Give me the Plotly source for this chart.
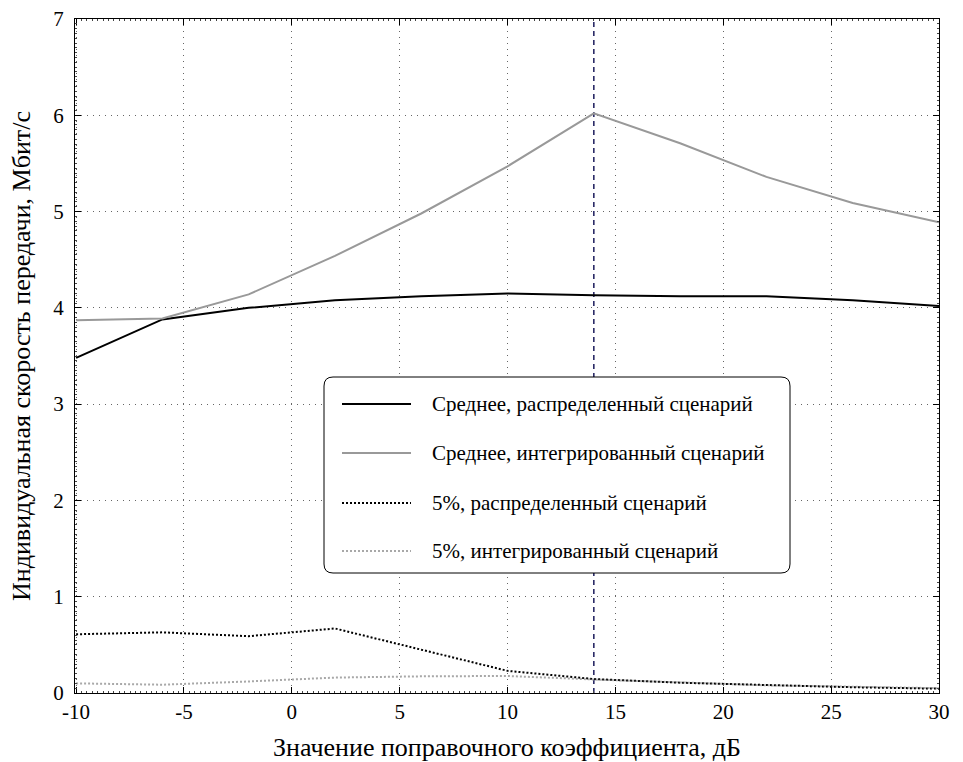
import plotly.graph_objects as go

# ---- data ----
x_db = [-10, -6, -2, 2, 6, 10, 14, 18, 22, 26, 30]
mean_distributed = [3.48, 3.88, 4.00, 4.08, 4.12, 4.15, 4.13, 4.12, 4.12, 4.08, 4.02]
mean_integrated = [3.87, 3.89, 4.14, 4.54, 4.98, 5.47, 6.02, 5.71, 5.36, 5.09, 4.89]
p5_distributed = [0.61, 0.63, 0.59, 0.67, 0.45, 0.23, 0.145, 0.107, 0.083, 0.06, 0.045]
p5_integrated = [0.10, 0.086, 0.12, 0.16, 0.173, 0.177, 0.14, 0.11, 0.08, 0.065, 0.05]
marker_x = 14

names = [
    "Среднее, распределенный сценарий",
    "Среднее, интегрированный сценарий",
    "5%, распределенный сценарий",
    "5%, интегрированный сценарий",
]
x_title = "Значение поправочного коэффициента, дБ"
y_title = "Индивидуальная скорость передачи, Мбит/с"
x_ticks = [-10, -5, 0, 5, 10, 15, 20, 25, 30]
x_ticktext = ["-10", "-5", "0", "5", "10", "15", "20", "25", "30"]
y_ticks = [0, 1, 2, 3, 4, 5, 6, 7]
y_ticktext = ["0", "1", "2", "3", "4", "5", "6", "7"]

styles = [
    dict(color="black", width=2, dash="solid"),
    dict(color="#999999", width=2, dash="solid"),
    dict(color="black", width=2, dash="2px,2px"),
    dict(color="#a8a8a8", width=2, dash="2px,2px"),
]
series = [mean_distributed, mean_integrated, p5_distributed, p5_integrated]

W, H = 963, 762
L, R, T, B = 75, 24, 19, 69
pw, ph = W - L - R, H - T - B

fig = go.Figure()

fig.add_trace(go.Scatter(
    x=[marker_x, marker_x], y=[0, 7], mode="lines",
    line=dict(color="#1c1c5c", width=1.5, dash="5px,4px"),
    showlegend=False, hoverinfo="skip"))

for ys, st, nm in zip(series, styles, names):
    fig.add_trace(go.Scatter(x=x_db, y=ys, mode="lines", name=nm,
                             line=st, showlegend=False))

font_family = "Liberation Serif"

axis_common = dict(
    showline=True, linecolor="black", linewidth=1, mirror="allticks",
    ticks="inside", ticklen=6, tickcolor="black", tickwidth=1,
    showgrid=True, gridcolor="#666666", gridwidth=1, griddash="1px,5px",
    zeroline=False, automargin=False,
    tickfont=dict(family=font_family, size=21, color="black"),
)

fig.update_xaxes(range=[-10.05, 30], tickvals=x_ticks, ticktext=x_ticktext,
                 ticklabelstandoff=0,
                 title=dict(text=x_title, font=dict(family=font_family, size=26, color="black")),
                 minor=dict(dtick=0.25, ticklen=2, tickcolor="#444", ticks="inside", showgrid=False),
                 **axis_common)
fig.update_yaxes(range=[0, 7], tickvals=y_ticks, ticktext=y_ticktext,
                 ticklabelstandoff=6,
                 title=dict(text=y_title, font=dict(family=font_family, size=26, color="black")),
                 minor=dict(dtick=0.05, ticklen=2, tickcolor="#444", ticks="inside", showgrid=False),
                 **axis_common)

# ---- custom legend ----
def px(xp):
    return (xp - L) / pw

def py(yp):
    return (H - B - yp) / ph

bx0, bx1, by0, by1 = 324, 790, 377, 573
r = 9
rx, ry = r / pw, r / ph
X0, X1, Y0, Y1 = px(bx0), px(bx1), py(by1), py(by0)
path = (f"M{X0+rx},{Y1} L{X1-rx},{Y1} Q{X1},{Y1} {X1},{Y1-ry} "
        f"L{X1},{Y0+ry} Q{X1},{Y0} {X1-rx},{Y0} "
        f"L{X0+rx},{Y0} Q{X0},{Y0} {X0},{Y0+ry} "
        f"L{X0},{Y1-ry} Q{X0},{Y1} {X0+rx},{Y1} Z")
fig.add_shape(type="path", path=path, xref="paper", yref="paper",
              fillcolor="white", line=dict(color="black", width=1), layer="above")

row_y = [404, 453, 503, 551]
for yy, st, nm in zip(row_y, styles, names):
    fig.add_shape(type="line", xref="paper", yref="paper",
                  x0=px(342), x1=px(411), y0=py(yy), y1=py(yy),
                  line=dict(color=st["color"], width=st["width"], dash=st["dash"]),
                  layer="above")
    fig.add_annotation(text=nm, xref="paper", yref="paper", x=px(430), y=py(yy),
                       xanchor="left", yanchor="middle", showarrow=False,
                       font=dict(family=font_family, size=21, color="black"))

fig.update_layout(
    width=W, height=H,
    margin=dict(l=L, r=R, t=T, b=B),
    plot_bgcolor="white", paper_bgcolor="white",
    showlegend=False,
    font=dict(family=font_family, color="black"),
)

fig.write_html("out.html")
